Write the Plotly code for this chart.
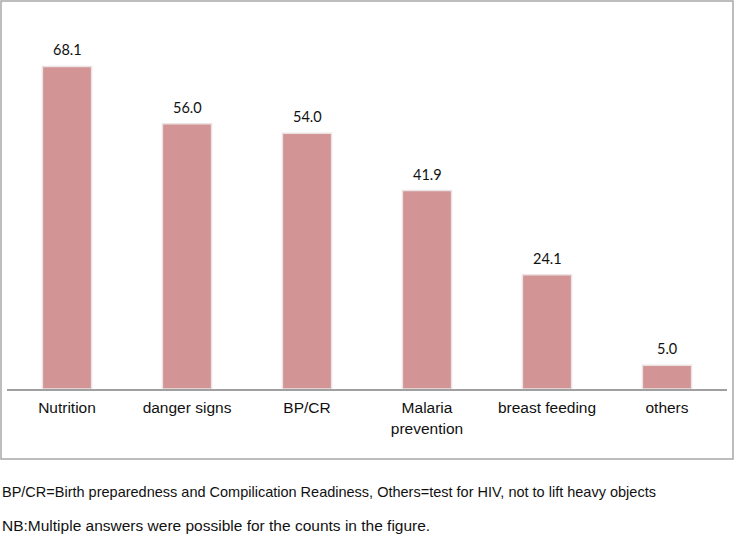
import plotly.graph_objects as go

categories = ["Nutrition", "danger signs", "BP/CR", "Malaria<br>prevention", "breast feeding", "others"]
values = [68.1, 56.0, 54.0, 41.9, 24.1, 5.0]
value_labels = ["68.1", "56.0", "54.0", "41.9", "24.1", "5.0"]
footnote1 = "BP/CR=Birth preparedness and Compilication Readiness, Others=test for HIV, not to lift heavy objects"
footnote2 = "NB:Multiple answers were possible for the counts in the figure."

W, H = 735, 537
ml, mr, mt, mb = 7, 8, 10, 148
plot_w = W - ml - mr
plot_h = H - mt - mb

fig = go.Figure()
fig.add_trace(go.Bar(
    x=categories, y=values,
    marker=dict(color="#D29494", line=dict(color="#ECE4E4", width=1.5)),
    width=0.41,
    hoverinfo="x+y",
))

for c, v, t in zip(categories, values, value_labels):
    fig.add_annotation(x=c, y=v, text=t, showarrow=False, yanchor="bottom",
                       yshift=6, font=dict(family="Lato, Liberation Sans", size=14.5, color="#111"))

def px_to_paper_x(px):
    return (px - ml) / plot_w

def px_to_paper_y(py):
    return (H - mb - py) / plot_h

fig.add_shape(type="rect", xref="paper", yref="paper",
              x0=px_to_paper_x(1), x1=px_to_paper_x(733),
              y0=px_to_paper_y(459), y1=px_to_paper_y(1),
              line=dict(color="#A8A8A8", width=1.5), fillcolor="rgba(0,0,0,0)", layer="below")

fig.add_annotation(xref="paper", yref="paper", x=px_to_paper_x(0), y=px_to_paper_y(492),
                   text=footnote1, showarrow=False, xanchor="left", yanchor="middle",
                   font=dict(family="Liberation Sans, Arial", size=14.5, color="#111"))
fig.add_annotation(xref="paper", yref="paper", x=px_to_paper_x(0), y=px_to_paper_y(525),
                   text=footnote2, showarrow=False, xanchor="left", yanchor="middle",
                   font=dict(family="Liberation Sans, Arial", size=15.5, color="#111"))

fig.update_layout(
    width=W, height=H,
    margin=dict(l=ml, r=mr, t=mt, b=mb),
    paper_bgcolor="white", plot_bgcolor="white",
    showlegend=False,
    font=dict(family="Liberation Sans, Arial", size=14, color="#111"),
)
fig.update_xaxes(showline=True, linecolor="#A0A0A0", linewidth=1.5, ticks="",
                 tickfont=dict(size=15.5, color="#111"), showgrid=False,
                 ticklabelstandoff=4)
fig.update_yaxes(range=[0, 80], visible=False, showgrid=False, zeroline=False)

fig.write_html("out.html", config={"displayModeBar": False},
               post_script="document.body.style.margin='0px';document.body.style.padding='0px';")
